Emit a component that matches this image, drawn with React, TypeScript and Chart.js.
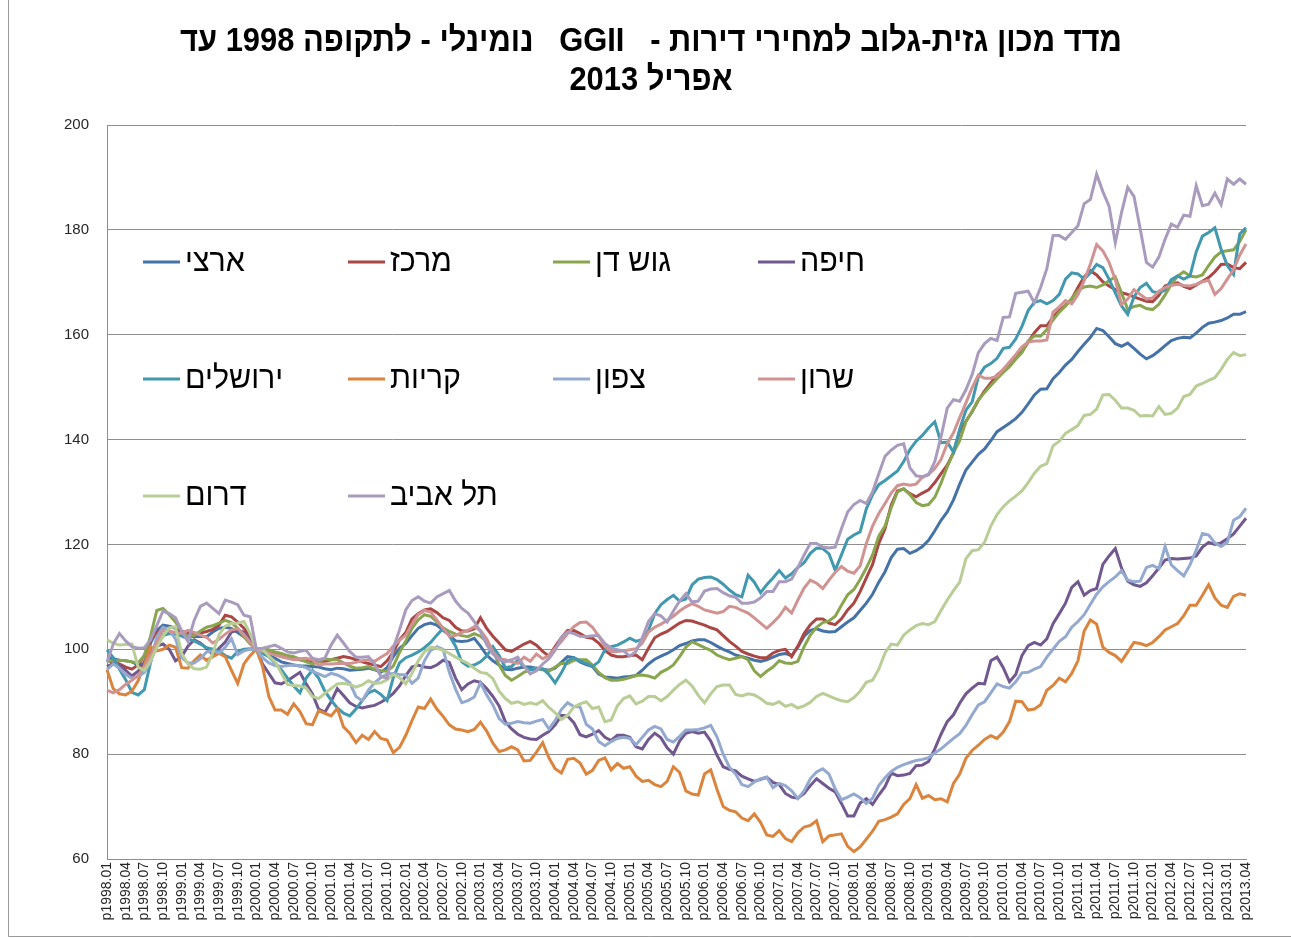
import React, { useEffect, useRef } from 'react';
import { Chart, registerables } from 'chart.js';

Chart.register(...registerables);

// ---------- categories ----------
const YEARS = [1998, 1999, 2000, 2001, 2002, 2003, 2004, 2005, 2006, 2007, 2008, 2009, 2010, 2011, 2012, 2013];
const MONTHS = ['01', '02', '03', '04', '05', '06', '07', '08', '09', '10', '11', '12'];
const LAST_MONTH_2013 = 4;
const labels: string[] = [];
YEARS.forEach((y) => {
  MONTHS.forEach((m, k) => {
    if (y === 2013 && k >= LAST_MONTH_2013) return;
    labels.push('p' + y + '.' + m);
  });
});

// ---------- series (monthly, 1998.01 - 2013.04) ----------
const artzi = [
  98.5, 98.2, 97.9, 97.8, 97.6, 97, 97.2, 101.2, 103.6, 104.6, 104.4, 104,
  103, 102.6, 102.4, 102.5, 102.4, 103.3, 104, 104.2, 104, 103.2, 102.4, 101.8,
  100, 99.4, 98.9, 98.3, 97.6, 97.3, 97, 96.8, 96.8, 96.7, 96.6, 96.3,
  96.1, 96.4, 96.3, 96, 96.1, 96.2, 96.4, 96.1, 95.6, 96.5, 98.6, 100.2,
  101.1, 102.6, 104, 104.7, 105, 104.6, 103.6, 102.7, 101.6, 101.5, 101.6, 102.1,
  100.6, 98.9, 97.8, 97, 96.2, 96.1, 96.4, 96.6, 96.6, 96.4, 96.2, 96,
  96.4, 97.5, 98.6, 98.4, 97.6, 97.1, 96.7, 95.3, 94.7, 94.6, 94.5, 94.7,
  94.8, 95, 96, 97.2, 98.1, 98.7, 99.2, 99.9, 100.7, 101.1, 101.6, 101.8,
  101.8, 101.3, 100.6, 100, 99.5, 98.9, 98.6, 98.3, 97.9, 97.7, 98, 98.5,
  99, 99.2, 98.8, 100.4, 102.5, 103.6, 103.9, 103.5, 103.3, 103.4, 104.3, 105.2,
  106, 107.4, 108.8, 110.5, 112.8, 114.8, 117.5, 119.1, 119.2, 118.3, 118.8, 119.6,
  120.8, 122.6, 124.6, 126.2, 128.5, 131.5, 134.2, 135.7, 137.2, 138.2, 139.8, 141.5,
  142.3, 143.1, 144, 145.2, 146.8, 148.5, 149.6, 149.7, 151.6, 152.8, 154.2, 155.3,
  156.8, 158.2, 159.5, 161.2, 160.8, 159.6, 158.3, 157.8, 158.4, 157.4, 156.3, 155.4,
  156, 156.9, 157.9, 158.9, 159.3, 159.5, 159.4, 160.3, 161.4, 162.2, 162.4, 162.7,
  163.2, 163.9, 163.9, 164.4,
];

const merkaz = [
  97.9, 97.5, 97.2, 96.6, 96.2, 97, 98.8, 101.8, 103.2, 103.8, 103.2, 103.2,
  103.4, 103.2, 103, 103.1, 103.4, 103.8, 104.6, 106.5, 106.2, 105.2, 104, 102.6,
  100, 99.8, 99.6, 99.1, 98.6, 98.4, 98.3, 98, 97.8, 97.6, 97.7, 97.7,
  98, 98.3, 98.6, 98.4, 98, 97.6, 97.3, 97, 96.7, 97.8, 99.5, 101.8,
  103.2, 105.8, 106.8, 107.5, 107.7, 107, 106, 105.5, 104.2, 103.5, 103.5, 103.9,
  106, 104, 102.5, 101.2, 99.9, 99.6, 100.3, 101, 101.5, 100.8, 99.6, 98.7,
  100.5, 102.2, 103.6, 103.6, 103, 102.3, 102.1, 101.2, 99.8, 98.9, 98.6, 98.6,
  98.8, 98.9, 98, 100.2, 102.2, 102.9, 103.4, 104.2, 105, 105.5, 105.4, 105,
  104.6, 104.1, 103.7, 102.6, 101.5, 100.6, 99.6, 99.1, 98.7, 98.4, 98.4, 99.3,
  99.8, 100, 98.6, 100.6, 103, 104.7, 105.8, 105.8, 105, 104.7, 105.8, 107.5,
  108.8, 111, 113.6, 116.2, 120.2, 123, 127.5, 130.2, 130.6, 129.7, 129.1, 129.8,
  130.4, 131.8, 133.5, 135.1, 137.5, 141.6, 143.5, 145.3, 147.5, 149.3, 150.8, 152.3,
  153.3, 154.5, 155.6, 156.8, 158.6, 160.4, 161.7, 161.7, 163.4, 164.6, 165.6, 166.8,
  169, 171, 172.2, 171.4, 170.1, 169.3, 168.6, 168, 167.7, 167.2, 166.8, 166.4,
  166.3, 167.5, 169.3, 169.7, 169.9, 169.2, 168.8, 169.5, 170.2, 170.9, 172, 173.4,
  173.5, 172.8, 172.6, 173.8,
];

const gushDan = [
  97.6, 97.8, 97.9, 97.8, 97.6, 97.4, 98.8, 102.5, 107.4, 107.8, 106.6, 105.2,
  103.4, 102.5, 102.6, 103.5, 104.2, 104.5, 105, 105.5, 105.1, 104, 102.4, 101,
  100, 100.1, 99.9, 99.5, 99.2, 98.8, 98.6, 98.1, 97.6, 97.2, 97.6, 98.2,
  98, 98, 97.4, 96.8, 96.4, 96.5, 96.7, 96.2, 95.9, 95.8, 96.8, 99.4,
  101.6, 104, 105.6, 106.6, 106.3, 105.2, 104.1, 103.4, 102.9, 102.6, 102.4, 103,
  102.5, 101.4, 99.9, 97, 95, 94.1, 94.8, 95.6, 96.1, 96.4, 96.1, 95.8,
  96.6, 97.3, 97.3, 97.9, 98, 98, 97, 95.6, 94.6, 94.1, 94.1, 94.3,
  94.6, 95, 95.1, 94.9, 94.5, 95.6, 96.2, 97, 98.6, 100.4, 101.4, 100.9,
  100.3, 99.8, 98.9, 98.4, 98, 98.3, 98.6, 98, 95.9, 94.8, 95.8, 96.6,
  97.8, 97.4, 97.3, 97.7, 100.5, 102.7, 104.2, 105.1, 105.4, 106.3, 108.4, 110.4,
  111.4, 113.3, 115.5, 118, 121.6, 123.5, 127, 130, 130.6, 129.5, 128, 127.4,
  127.6, 129, 131.7, 134.8, 137.5, 139.8, 143.4, 145.4, 147.6, 149, 150.3, 151.6,
  152.8, 153.9, 155.3, 156.6, 158.8, 159.8, 159.7, 161, 162.8, 164.3, 165.5, 166.9,
  168.4, 169.1, 169.3, 169, 169.5, 170.3, 171, 168, 164.8, 165.4, 165.6, 165,
  164.8, 165.8, 167.6, 169.6, 171.2, 172, 171.2, 171, 171.4, 173.2, 174.8, 175.8,
  176, 176.2, 177.8, 180,
];

const haifa = [
  96.7, 97.3, 97, 96, 94.9, 95.8, 97.6, 99.3, 100.6, 101, 100, 97.8,
  98.6, 100.6, 101.8, 101.2, 100.2, 99, 100.2, 101.4, 103.3, 103.6, 103.3, 101.8,
  100, 97.2, 95.4, 93.6, 93.4, 94, 94.8, 95.6, 93.4, 91.5, 88.6, 88,
  90, 92.5, 91.2, 89.8, 89.1, 88.8, 89.1, 89.3, 89.9, 90.6, 91.6, 93,
  95, 96.6, 97, 96.6, 96.5, 97, 97.9, 97.5, 94.5, 92.3, 93.4, 94,
  93.7, 92.5, 91, 89.2, 86.2, 84.8, 83.8, 83.2, 82.9, 82.8, 83.6, 84.3,
  85.6, 87.4, 87.3, 86, 83.7, 83.3, 83.8, 84.5, 83.2, 82.6, 83.6, 83.6,
  83.2, 81.4, 81, 82.8, 84, 83.1, 81.2, 80, 82.5, 84, 84.3, 84,
  84.2, 82.5, 79.8, 77.6, 77.1, 76.8, 75.8, 75.3, 74.8, 75.2, 75.6, 74.6,
  74.2, 72.5, 71.8, 71.6, 72.5, 74, 75.3, 74.4, 73.5, 72.8, 70.6, 68.2,
  68.2, 70.7, 71.5, 70.4, 72.2, 73.8, 76.4, 75.9, 76, 76.3, 77.8, 77.9,
  78.6, 81, 83.8, 86.2, 87.5, 89.7, 91.5, 92.6, 93.5, 93.4, 97.8, 98.5,
  96.5, 93.8, 95.2, 98.8, 100.7, 101.3, 100.8, 102, 104.9, 106.8, 108.8, 111.8,
  112.9, 110.3, 111.2, 111.6, 116.2, 117.8, 119.2, 115.5, 113, 112.3, 112, 112.7,
  114, 115.5, 117, 117.3, 117.2, 117.3, 117.4, 117.8, 119.5, 120.4, 120, 120.3,
  121.1, 122, 123.5, 125,
];

const jerusalem = [
  99.9, 98.4, 96.2, 94.2, 91.8, 91.3, 92.3, 97.5, 101.2, 102.6, 103, 102.9,
  102.5, 102, 101.6, 101, 100.3, 100, 99.6, 98.8, 98.3, 99.6, 100, 100.1,
  100, 99.2, 98.6, 97.4, 96.1, 94.5, 93, 91.7, 94.5, 96, 94.5, 92,
  90.3, 88.8, 87.8, 87.3, 88.6, 90.2, 91.7, 92.2, 91.4, 90.2, 94.6, 97.4,
  98.4, 98.9, 99.5, 100.3, 101.3, 102.7, 104, 102.6, 100.6, 97.6, 96.8, 97,
  97.6, 98.7, 100.5, 98.8, 96.5, 96.7, 97.9, 96.6, 96.1, 96.2, 96.3, 95.2,
  93.6, 95.5, 97.8, 98.4, 97.8, 97.3, 96.7, 97.6, 99.9, 100.5, 100.8, 101.4,
  102.1, 101.5, 101.9, 103.6, 106.8, 108.5, 109.5, 110.3, 109.2, 109.6, 112.3, 113.4,
  113.7, 113.8, 113.3, 112.4, 111.3, 110.4, 110, 114.1, 112.8, 110.8, 112.3, 113.6,
  115, 113.6, 114.4, 115.6, 116.5, 118.3, 119.3, 119.2, 118.2, 115.1, 118, 121,
  121.8, 122.4, 126.8, 129.5, 131.4, 132.2, 133.1, 134, 135.8, 138.1, 139.7, 140.8,
  142.2, 143.4, 139.4, 139.5, 137.6, 142, 145.6, 147.2, 152, 153.8, 154.5, 155.5,
  157.4, 157.6, 159.2, 161.6, 164.6, 166.2, 166.5, 165.9, 166.5, 167.7, 170.6, 171.8,
  171.6, 170.6, 171.8, 173.4, 172.8, 170.6, 168, 165.5, 163.9, 167.2, 169, 169.8,
  168.2, 168, 168.5, 170.5, 171.2, 170.6, 171.2, 175.8, 178.8, 179.5, 180.4, 176.3,
  173.2, 171.5, 179.2, 180.4,
];

const krayot = [
  96.1, 92.5, 91.5, 91.3, 92, 94, 97, 100.5, 99.7, 100, 100.8, 100.4,
  96.5, 96.4, 97.8, 98.9, 97.9, 98.6, 99.2, 98.6, 96, 93.5, 97.2, 98.8,
  100, 96.7, 91, 88.4, 88.4, 87.6, 89.6, 88.1, 85.8, 85.6, 88.3, 87.8,
  87.3, 88.7, 85.2, 84, 82.2, 83.6, 82.8, 84.3, 83, 82.7, 80.3, 81.3,
  83.6, 86.4, 89, 88.7, 90.5, 88.6, 87.2, 85.6, 84.8, 84.6, 84.3, 84.7,
  86.1, 84.4, 82.1, 80.5, 80.8, 81.4, 80.8, 78.7, 78.8, 80.4, 82.2, 79.3,
  77.2, 76.4, 79, 79.2, 78.3, 76.2, 76.9, 78.8, 79.3, 77, 78.2, 77.3,
  77.6, 75.8, 74.8, 75, 74.2, 73.8, 74.8, 77.6, 76.5, 73, 72.4, 72.2,
  76.2, 77, 73.3, 70, 69.3, 69, 67.8, 67.3, 68.6, 67, 64.6, 64.3,
  65.4, 63.9, 63.3, 65, 66.1, 66.4, 67.3, 63.3, 64.4, 64.6, 64.8, 62.4,
  61.4, 62.3, 63.8, 65.3, 67.2, 67.5, 68, 68.6, 70.4, 71.5, 74.2, 71.6,
  72.1, 71.3, 71.5, 70.9, 74.4, 76.2, 79.2, 80.7, 81.7, 82.8, 83.5, 83,
  84.2, 86.2, 90.1, 90, 88.4, 88.6, 89.4, 92.2, 93.1, 94.5, 93.8, 95.4,
  97.8, 103.5, 105.6, 104.8, 100.4, 99.4, 98.8, 97.7, 99.5, 101.3, 101.1, 100.7,
  101.3, 102.4, 103.7, 104.3, 104.9, 106.4, 108.4, 108.4, 110.3, 112.3, 109.8, 108.4,
  108, 110.1, 110.6, 110.3,
];

const tzafon = [
  96.1, 97.2, 96.4, 95.2, 94.5, 94.8, 95.6, 97.5, 102.4, 104.2, 103.6, 102,
  98.4, 97.4, 97.4, 98.2, 99.5, 99.7, 99.3, 100.4, 102, 99, 99.7, 100,
  100, 98.4, 97.4, 96.9, 96.7, 96.9, 97, 96.8, 96.5, 95.8, 95.3, 94.8,
  95.4, 95.1, 94.5, 93.6, 91, 90.2, 92.2, 93.6, 94.6, 95.3, 95.4, 95.2,
  95.1, 93.5, 94.5, 97.8, 99.8, 100.5, 100, 95.6, 92.4, 89.8, 90.2, 90.9,
  93.6, 91.3, 89.4, 86.8, 85.7, 85.9, 86.2, 86, 85.9, 86.3, 86.6, 84.8,
  86.4, 88.5, 89.8, 89.1, 89, 85.7, 84.8, 82.4, 81.6, 82.4, 83, 83.2,
  83, 81.8, 83.2, 84.6, 85.3, 84.8, 82.8, 82.3, 83.4, 84.6, 84.6, 84.7,
  85, 85.5, 83.3, 80, 77.5, 76.2, 74.2, 73.8, 74.7, 75.3, 75.6, 73.6,
  74.4, 74, 73, 71.5, 73, 75.3, 76.6, 77.2, 76.2, 73.4, 71.3, 71.8,
  72.4, 71.7, 70.6, 71.6, 74, 75.5, 76.7, 77.5, 78, 78.4, 78.8, 79,
  79.3, 80.2, 81, 82, 83, 83.9, 85.5, 87.5, 89.4, 90, 91.7, 93.4,
  92.9, 92.6, 93.8, 95.5, 95.6, 96.2, 96.7, 98.5, 100, 101.5, 102.4, 104.2,
  105.3, 106.6, 108.6, 110.5, 111.9, 112.9, 113.8, 115, 113.2, 112.9, 113, 115.6,
  116, 115.4, 119.6, 116.1, 115, 114, 116.1, 118.9, 122.1, 121.8, 120.3, 119.6,
  120.4, 124.6, 125.3, 126.9,
];

const sharon = [
  92.2, 91.7, 92.3, 93.3, 94.1, 95, 96.6, 98.8, 101.3, 103.6, 103.5, 103.2,
  103, 103.6, 103.2, 102.7, 102.3, 101.2, 101.9, 102.9, 103.7, 103.9, 102.8, 101.3,
  100, 99.6, 99.3, 98.9, 98.6, 98.3, 98, 98.2, 98.3, 98, 97, 97.2,
  97.2, 97.3, 97.3, 97.3, 97.5, 97.8, 98, 97.7, 98.5, 99.2, 100.6, 101.7,
  102.7, 104.8, 106.6, 107.4, 107.1, 105.6, 104, 102.5, 102.6, 103.2, 103.6, 104.3,
  103.6, 102, 99.6, 98.2, 98, 97.6, 97.3, 98.5, 97.7, 99.1, 98.2, 98.8,
  100.2, 101.5, 103, 104.3, 105.1, 105.2, 104.2, 102.5, 100.6, 99.6, 99.6, 99.7,
  99.9, 100.1, 101.2, 103.3, 104.2, 104.8, 105.5, 106.3, 107.3, 108.1, 108.7, 108.2,
  107.5, 107.2, 106.9, 107.2, 108.2, 108, 107.4, 106.9, 106, 105, 104, 105.1,
  106.3, 108, 106.9, 109.4, 111.7, 113.2, 112.6, 111.6, 113.2, 114.7, 115.8, 114.9,
  114.5, 115.9, 120.2, 123.5, 125.9, 127.8, 129.8, 131.2, 131.5, 131.3, 131.5, 132.8,
  133.4, 134.5, 136.2, 139.2, 141.3, 144.2, 147, 149.9, 152.3, 151.7, 151.7, 152.1,
  153.4, 154.8, 156.2, 157.7, 158.6, 158.8, 158.8, 159, 164.3, 165.3, 166.5, 165.9,
  167.6, 170.3, 173.5, 177.2, 176, 173.8, 170.5, 165.8, 166.8, 168.6, 167.7, 166.8,
  167, 168.3, 169, 169.4, 169.6, 169.4, 169.3, 169.6, 170.1, 170.4, 167.7, 168.8,
  170.6, 172.4, 175.2, 177.3,
];

const darom = [
  101.8, 101.2, 100.8, 100.9, 101, 96.6, 96, 97.8, 100.3, 102.5, 104.1, 104.3,
  99.2, 97.2, 96.3, 96.2, 96.6, 99.3, 102.8, 104.4, 104.9, 105, 105.3, 103,
  100, 100, 98.7, 97.6, 95.5, 93.3, 93.1, 93, 92.6, 91, 90.6, 91.6,
  92.5, 93.4, 93.5, 93.3, 92.8, 93.2, 94, 93.5, 93.6, 94.2, 95.2, 94.6,
  93.4, 95.4, 97.8, 99.5, 100.4, 100.2, 99.8, 99.2, 98.5, 97.9, 97.3, 96.4,
  95.6, 95.4, 94.4, 92, 90.6, 89.7, 90, 89.5, 89.8, 89.5, 90.2, 88.9,
  87.9, 86.6, 87.4, 89, 89.6, 90, 88.7, 89, 86.2, 86.5, 89.2, 90.6,
  91.1, 89.6, 90.1, 91, 91, 90.2, 91, 92.2, 93.3, 94.1, 93, 91.2,
  89.8, 91.5, 92.9, 93.2, 93.2, 91.4, 91.1, 91.5, 91.3, 90.6, 89.7, 89.5,
  90, 89.1, 89.5, 88.8, 89.2, 89.9, 91, 91.6, 91.1, 90.6, 90.2, 90,
  90.8, 92, 93.7, 94.1, 96.2, 99.3, 101, 100.8, 102.7, 103.7, 104.5, 104.9,
  104.7, 105.3, 107.4, 109.4, 111.2, 112.8, 117.3, 118.8, 119, 120.4, 123.5, 125.7,
  127.2, 128.3, 129.2, 130.2, 131.8, 133.6, 134.9, 135.4, 138.8, 139.7, 141.2, 141.9,
  142.7, 144.6, 144.8, 145.8, 148.5, 148.6, 147.5, 146, 146, 145.6, 144.5, 144.6,
  144.5, 146.3, 144.8, 145, 146, 148.2, 148.6, 150.2, 150.7, 151.3, 151.8, 153.4,
  155.3, 156.6, 156, 156.2,
];

const telAviv = [
  97.5, 101, 103, 101.6, 100.5, 100.2, 100.3, 101.8, 104.5, 107.3, 106.8, 106,
  103.5, 101.5, 105.5, 108.2, 108.8, 107.8, 106.8, 109.4, 109, 108.5, 106.5, 106.2,
  100, 100.2, 100.5, 100.8, 100.2, 99.5, 99.3, 99.6, 99.8, 98.3, 98, 98.3,
  100.8, 102.7, 101.2, 99.6, 98.5, 98.5, 98.6, 97.2, 94.8, 94.5, 100.2, 103.7,
  107.5, 109.3, 110, 109.2, 108.8, 110, 110.6, 111.2, 109.2, 107.8, 106.9, 105.3,
  103.4, 100.9, 99.1, 98, 97.6, 98, 98.5, 96.8, 95.3, 95.9, 97.2, 98.2,
  99.8, 102.3, 103.3, 103, 102.5, 102.4, 102.6, 102.6, 101.1, 100.2, 99.9, 99.7,
  98.7, 99.6, 102.2, 105.3, 106.8, 106.4, 105.2, 107.3, 109.2, 110.6, 109, 109.2,
  111.1, 111.5, 111.6, 110.8, 110.2, 109.9, 108.8, 108.8, 109, 109.8, 111, 111,
  112.9, 112.9, 113.4, 115.6, 118, 120.2, 120.2, 119.5, 119.3, 119.5, 123, 126.2,
  127.6, 128.4, 127.8, 130, 133.5, 136.8, 138, 138.9, 139.2, 134.6, 133.1, 132.9,
  133.3, 135.8, 140.5, 146, 147.6, 147.3, 149.5, 152.4, 156.6, 158.3, 159.3, 158.9,
  163.3, 163.4, 167.9, 168.1, 168.3, 166.1, 169, 172.6, 178.9, 178.9, 178.2, 179.5,
  180.8, 185, 185.8, 190.6, 187.3, 184.5, 177.5, 183.3, 188.1, 186.4, 180.2, 173.8,
  172.9, 174.8, 178.2, 181.1, 180.5, 182.8, 182.6, 188.4, 184.6, 184.9, 187, 184.8,
  189.7, 188.7, 189.7, 188.7,
];

// ---------- names / colours ----------
const SERIES_NAMES = ['ארצי', 'מרכז', 'גוש דן', 'חיפה', 'ירושלים', 'קריות', 'צפון', 'שרון', 'דרום', 'תל אביב'];
const SERIES_DATA = [artzi, merkaz, gushDan, haifa, jerusalem, krayot, tzafon, sharon, darom, telAviv];
const SERIES_COLORS = ['#4572A7', '#AA4643', '#89A54E', '#71588F', '#4198AF', '#DB843D', '#93A9CF', '#D19392', '#B9CD96', '#A99BBD'];

const TITLE_LINES = ['מדד מכון גזית-גלוב למחירי דירות -   GGII   נומינלי - לתקופה 1998 עד', 'אפריל 2013'];

const Y_MIN = 60;
const Y_MAX = 200;
const Y_STEP = 20;

const FONT = '"Liberation Sans", Arial, "DejaVu Sans", sans-serif';
const GRID = '#8e8e8e';
const TEXT = '#262626';

const overlayPlugin = {
  id: 'overlay',
  afterDraw(chart: any) {
    const ctx: CanvasRenderingContext2D = chart.ctx;
    const area = chart.chartArea;
    ctx.save();
    // outer frame (left + bottom)
    ctx.strokeStyle = '#9a9a9a';
    ctx.lineWidth = 1;
    ctx.beginPath();
    ctx.moveTo(8.5, 0);
    ctx.lineTo(8.5, chart.height - 1.5);
    ctx.lineTo(chart.width, chart.height - 1.5);
    ctx.stroke();

    // title
    (ctx as any).direction = 'rtl';
    ctx.fillStyle = '#000';
    ctx.textAlign = 'center';
    ctx.textBaseline = 'middle';
    ctx.font = 'bold 34px ' + FONT;
    const w = ctx.measureText(TITLE_LINES[0]).width;
    const sx = Math.min(1, 942 / w);
    TITLE_LINES.forEach((t, k) => {
      ctx.save();
      ctx.translate(651, 42 + k * 39);
      ctx.scale(sx, 1);
      ctx.fillText(t, 0, 0);
      ctx.restore();
    });

    // legend (4 columns, inside the plot area)
    ctx.font = '32px ' + FONT;
    ctx.textAlign = 'left';
    SERIES_NAMES.forEach((name, idx) => {
      const col = idx % 4;
      const row = Math.floor(idx / 4);
      const x = area.left + 36 + col * 205;
      const y = area.top + 137 + row * 117;
      ctx.strokeStyle = SERIES_COLORS[idx];
      ctx.lineWidth = 3;
      ctx.beginPath();
      ctx.moveTo(x, y);
      ctx.lineTo(x + 37, y);
      ctx.stroke();
      ctx.fillStyle = '#000';
      ctx.save();
      ctx.translate(x + 42, y);
      ctx.scale(0.95, 1);
      ctx.fillText(name, 0, 0);
      ctx.restore();
    });
    ctx.restore();
  },
};

export default function App() {
  const ref = useRef<HTMLCanvasElement>(null);
  useEffect(() => {
    if (!ref.current) return;
    Chart.defaults.font.family = FONT;
    const chart = new Chart(ref.current, {
      type: 'line',
      data: {
        labels,
        datasets: SERIES_DATA.map((d, idx) => ({
          label: SERIES_NAMES[idx],
          data: d,
          borderColor: SERIES_COLORS[idx],
          backgroundColor: SERIES_COLORS[idx],
          borderWidth: 3,
          pointRadius: 0,
          pointHoverRadius: 0,
          tension: 0,
          fill: false,
          order: SERIES_DATA.length - idx,
        })),
      },
      options: {
        responsive: false,
        animation: false,
        devicePixelRatio: 1,
        layout: { padding: { top: 125, right: 45, bottom: 0, left: 8 } },
        plugins: {
          legend: { display: false },
          title: { display: false },
          tooltip: { enabled: false },
        },
        scales: {
          x: {
            grid: { display: false, drawTicks: false },
            border: { display: true, color: GRID },
            ticks: {
              autoSkip: false,
              maxRotation: 90,
              minRotation: 90,
              padding: 3,
              color: TEXT,
              font: { size: 14, family: FONT },
              callback: (_v: any, i: number) => (i % 3 === 0 ? labels[i] : ''),
            },
            afterFit: (s: any) => {
              s.height = 79;
            },
          },
          y: {
            min: Y_MIN,
            max: Y_MAX,
            grid: { color: GRID, drawTicks: false },
            border: { display: true, color: GRID },
            ticks: {
              stepSize: Y_STEP,
              padding: 18,
              color: TEXT,
              font: { size: 15, family: FONT },
            },
            afterFit: (s: any) => {
              s.width = 99;
            },
          },
        },
      },
      plugins: [overlayPlugin],
    });
    return () => chart.destroy();
  }, []);
  return (
    <div style={{ position: 'absolute', left: 0, top: 0, width: 1291, height: 938, background: '#fff' }}>
      <canvas ref={ref} width={1291} height={938} style={{ display: 'block' }} />
    </div>
  );
}
